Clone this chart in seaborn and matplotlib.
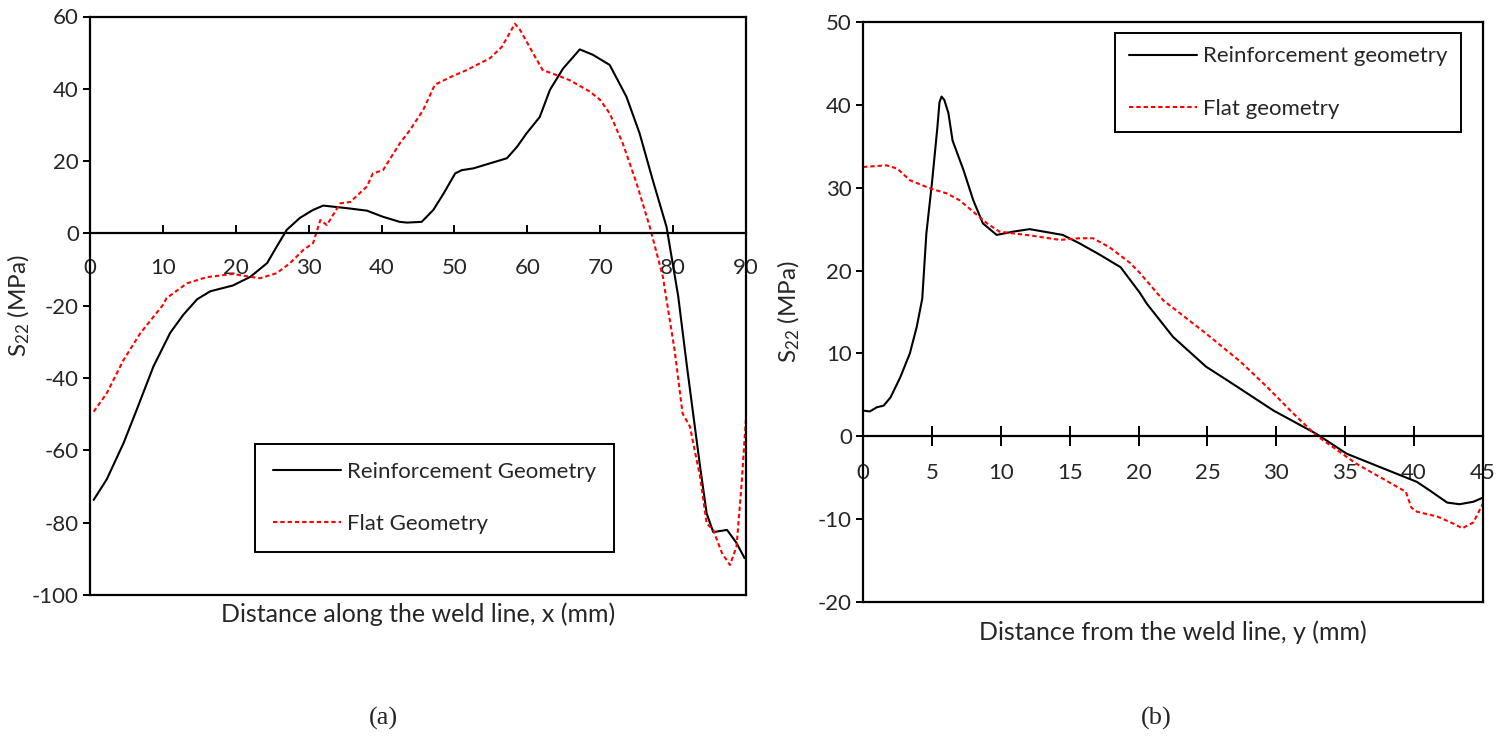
import numpy as np
import pandas as pd
import matplotlib
matplotlib.use("Agg")
import matplotlib.pyplot as plt
import seaborn as sns

# ---- (a) S22 along the weld line ----
xa_reinf = [0.5, 2.3, 4.6, 6.4, 8.7, 11.0, 12.8, 14.7, 16.5, 19.6, 22.0, 24.3, 25.6, 27.0,
            28.8, 30.6, 32.0, 35.2, 38.0, 40.2, 42.5, 43.5, 45.5, 47.1, 48.5, 50.1, 51.0,
            52.6, 57.2, 58.6, 59.9, 61.7, 63.1, 64.9, 67.2, 69.0, 71.3, 73.6, 75.4, 77.2,
            79.1, 80.7, 81.9, 83.7, 84.6, 85.5, 87.4, 88.7, 89.8]
sa_reinf = [-73.7, -68.0, -58.0, -48.8, -36.8, -27.5, -22.5, -18.2, -16.0, -14.4, -12.0,
            -8.2, -3.7, 1.0, 4.3, 6.5, 7.7, 7.0, 6.3, 4.6, 3.2, 3.0, 3.2, 6.5, 11.0, 16.6,
            17.5, 18.0, 20.8, 24.0, 27.7, 32.2, 39.7, 45.6, 50.9, 49.4, 46.6, 37.8, 27.7,
            14.8, 1.8, -17.4, -36.8, -64.5, -77.4, -82.6, -82.0, -85.6, -89.8]

xa_flat = [0.5, 2.3, 4.6, 6.9, 10.0, 10.5, 13.3, 16.0, 19.6, 22.0, 23.3, 25.6, 27.4, 29.3,
           30.6, 31.6, 32.5, 34.3, 35.7, 38.0, 38.8, 40.2, 42.5, 43.9, 45.7, 47.3, 49.4,
           51.7, 54.9, 56.5, 58.3, 59.0, 60.8, 62.1, 64.0, 65.8, 68.6, 70.0, 71.3, 73.1,
           75.0, 76.8, 78.6, 79.1, 80.2, 81.3, 82.3, 83.7, 84.6, 85.5, 86.7, 87.8, 88.7,
           89.4, 90.0]
sa_flat = [-49.3, -44.2, -35.0, -27.6, -19.8, -17.9, -13.8, -12.1, -11.2, -12.0, -12.4, -11.0,
           -8.3, -4.5, -2.7, 3.7, 2.3, 8.3, 8.7, 13.0, 16.6, 17.5, 24.9, 28.6, 34.1, 41.1,
           43.2, 45.2, 48.5, 51.6, 58.0, 56.3, 49.8, 45.2, 43.8, 42.4, 39.2, 36.9, 33.2,
           24.9, 13.8, 1.8, -12.0, -18.4, -32.2, -49.8, -53.4, -67.3, -80.2, -82.0, -88.4,
           -91.7, -86.6, -69.2, -51.0]

# ---- (b) S22 away from the weld line ----
yb_reinf = [0.0, 0.5, 1.0, 1.5, 2.0, 2.7, 3.4, 3.9, 4.3, 4.6, 5.0, 5.4, 5.55, 5.7, 5.9, 6.2,
            6.5, 7.3, 8.0, 8.7, 9.7, 10.9, 12.1, 14.5, 15.7, 17.2, 18.7, 20.1, 20.6, 22.5,
            24.9, 26.4, 29.8, 32.9, 35.1, 37.5, 40.2, 41.1, 42.4, 43.3, 44.3, 45.0]
sb_reinf = [3.1, 3.0, 3.5, 3.7, 4.7, 7.1, 10.0, 13.2, 16.6, 24.5, 30.5, 37.3, 40.3, 41.0,
            40.6, 39.0, 35.7, 32.1, 28.5, 25.7, 24.3, 24.7, 25.0, 24.3, 23.3, 21.9, 20.4,
            17.3, 16.0, 12.0, 8.4, 6.8, 3.1, 0.3, -2.1, -3.7, -5.5, -6.5, -8.0, -8.2, -7.9,
            -7.4]

yb_flat = [0.0, 1.7, 2.5, 3.4, 4.9, 6.1, 7.0, 8.0, 9.0, 9.9, 12.3, 14.3, 15.7, 16.7, 17.9,
           19.4, 20.1, 21.8, 24.9, 27.4, 29.3, 31.2, 32.9, 34.1, 35.8, 39.4, 39.8, 40.2,
           41.7, 42.8, 43.5, 44.3, 45.0]
sb_flat = [32.5, 32.7, 32.3, 30.9, 29.9, 29.3, 28.5, 27.1, 25.7, 24.7, 24.2, 23.7, 23.9,
           23.9, 22.8, 20.9, 19.7, 16.4, 12.4, 9.0, 6.0, 2.8, 0.1, -1.3, -3.3, -6.7, -8.6,
           -9.1, -9.7, -10.5, -11.1, -10.4, -8.1]

labels_a = ["Reinforcement Geometry", "Flat Geometry"]
labels_b = ["Reinforcement geometry", "Flat geometry"]
xticks_a = np.arange(0, 91, 10)
yticks_a = np.arange(-100, 61, 20)
xticks_b = np.arange(0, 46, 5)
yticks_b = np.arange(-20, 51, 10)

sns.set_theme(style="white")
plt.rcParams["font.family"] = ["Lato", "DejaVu Sans"]
plt.rcParams["mathtext.fontset"] = "custom"
plt.rcParams["mathtext.rm"] = "Lato"
plt.rcParams["mathtext.it"] = "Lato:italic"
plt.rcParams["axes.unicode_minus"] = False

fig = plt.figure(figsize=(15.06, 7.36), dpi=100)
ax_a = fig.add_axes([90 / 1506, 1 - 595 / 736, 656 / 1506, 578.5 / 736])
ax_b = fig.add_axes([863 / 1506, 1 - 602 / 736, 620 / 1506, 580 / 736])

TICK_FS = 16
LABEL_FS = 18
LEG_FS = 16


def draw_series(df_r, df_f, labels, ax):
    data = pd.concat([
        df_r.assign(series=labels[0]),
        df_f.assign(series=labels[1]),
    ], ignore_index=True)
    sns.lineplot(data=data, x="d", y="s", hue="series", style="series",
                 palette={labels[0]: "black", labels[1]: "#ff0000"},
                 dashes={labels[0]: "", labels[1]: (2.1, 1.4)},
                 sort=False, estimator=None, linewidth=1.5, ax=ax)


def style_axes(ax, xlim, ylim, xticks, yticks, tickdir, ticklen, xpad):
    ax.set_xlim(*xlim)
    ax.set_ylim(*ylim)
    ax.set_xticks(xticks)
    ax.set_yticks(yticks)
    for sp in ax.spines.values():
        sp.set_visible(True)
        sp.set_color("black")
        sp.set_linewidth(1.6)
    # horizontal axis crosses at zero, frame stays closed
    ax.spines["bottom"].set_position(("data", 0))
    ax.plot([0, 1], [0, 0], transform=ax.transAxes, color="black",
            lw=1.6, clip_on=False, solid_capstyle="projecting")
    ax.tick_params(axis="x", direction=tickdir, length=ticklen, width=1.4,
                   color="black", pad=xpad, labelsize=TICK_FS, bottom=True)
    ax.tick_params(axis="y", direction="out", length=5, width=1.4,
                   color="black", pad=3, labelsize=TICK_FS, left=True)
    ax.grid(False)


draw_series(pd.DataFrame({"d": xa_reinf, "s": sa_reinf}),
            pd.DataFrame({"d": xa_flat, "s": sa_flat}), labels_a, ax_a)
draw_series(pd.DataFrame({"d": yb_reinf, "s": sb_reinf}),
            pd.DataFrame({"d": yb_flat, "s": sb_flat}), labels_b, ax_b)

style_axes(ax_a, (0, 90), (-100, 60), xticks_a, yticks_a, "in", 6, 18)
style_axes(ax_b, (0, 45), (-20, 50), xticks_b, yticks_b, "inout", 14, 12)

ax_a.set_xlabel("Distance along the weld line, x (mm)", fontsize=LABEL_FS)
ax_a.xaxis.set_label_coords(0.5, (595 - 622) / 578.5)
ax_a.xaxis.label.set_va("baseline")
ax_a.set_ylabel("S$_{22}$ (MPa)", fontsize=17.5)
ax_a.yaxis.set_label_coords((32 - 90) / 656, 0.5)

ax_b.set_xlabel("Distance from the weld line, y (mm)", fontsize=LABEL_FS)
ax_b.xaxis.set_label_coords(0.5, (602 - 640) / 580)
ax_b.xaxis.label.set_va("baseline")
ax_b.set_ylabel("S$_{22}$ (MPa)", fontsize=17.5)
ax_b.yaxis.set_label_coords((802 - 863) / 620, 0.5)

leg_a = ax_a.legend(loc="lower left", bbox_to_anchor=(165 / 656, 43 / 578.5),
                    fontsize=LEG_FS, frameon=True, fancybox=False, edgecolor="black",
                    handlelength=3.05, handletextpad=0.3, labelspacing=1.46,
                    borderpad=0.8, borderaxespad=0)
leg_a.get_frame().set_linewidth(1.4)
leg_a.get_frame().set_alpha(1)

leg_b = ax_b.legend(loc="upper right", bbox_to_anchor=(598 / 620, 569 / 580),
                    fontsize=LEG_FS, frameon=True, fancybox=False, edgecolor="black",
                    handlelength=3.05, handletextpad=0.3, labelspacing=1.46,
                    borderpad=0.6, borderaxespad=0)
leg_b.get_frame().set_linewidth(1.4)
leg_b.get_frame().set_alpha(1)

fig.text(383 / 1506, 1 - 718 / 736, "(a)", family="Liberation Serif", fontsize=19,
         ha="center", va="center")
fig.text(1156 / 1506, 1 - 718 / 736, "(b)", family="Liberation Serif", fontsize=19,
         ha="center", va="center")

fig.savefig("out.png", dpi=100, facecolor="white")
